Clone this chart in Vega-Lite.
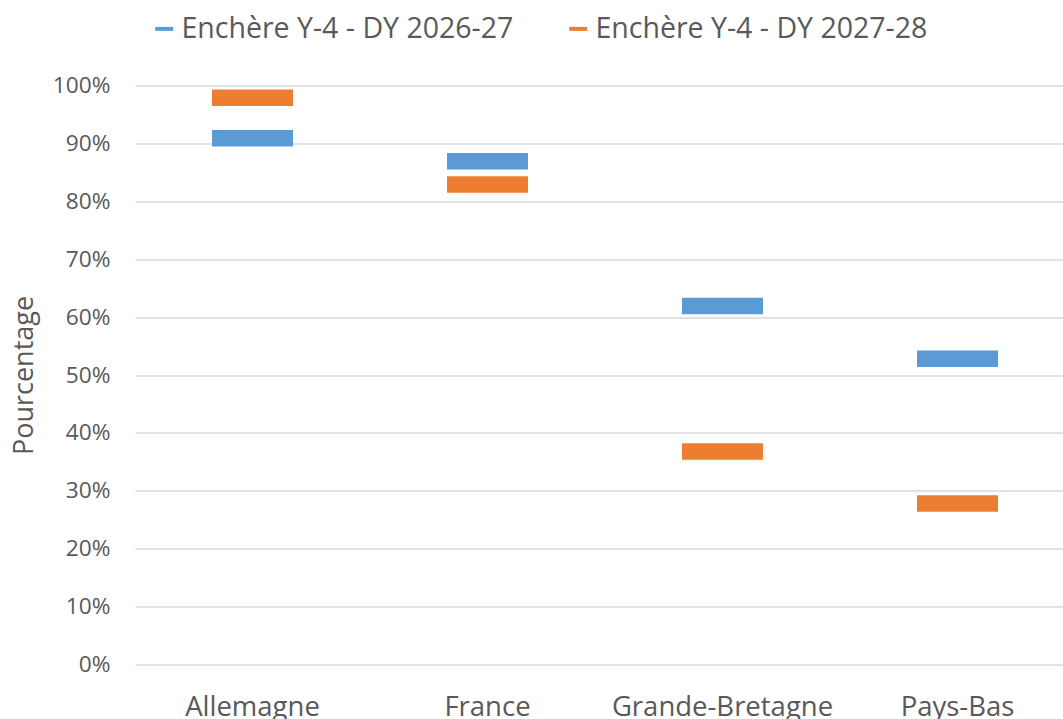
{
  "$schema": "https://vega.github.io/schema/vega-lite/v6.json",
  "width": 928,
  "height": 579,
  "autosize": {"type": "none"},
  "padding": {"left": 135, "top": 85.5, "right": 0, "bottom": 54.5},
  "background": "white",
  "config": {"view": {"stroke": null}, "font": "Open Sans"},
  "data": {
    "values": [
      {"pays": "Allemagne", "serie": "Enchère Y-4 - DY 2026-27", "valeur": 0.909},
      {"pays": "Allemagne", "serie": "Enchère Y-4 - DY 2027-28", "valeur": 0.979},
      {"pays": "France", "serie": "Enchère Y-4 - DY 2026-27", "valeur": 0.869},
      {"pays": "France", "serie": "Enchère Y-4 - DY 2027-28", "valeur": 0.829},
      {"pays": "Grande-Bretagne", "serie": "Enchère Y-4 - DY 2026-27", "valeur": 0.619},
      {"pays": "Grande-Bretagne", "serie": "Enchère Y-4 - DY 2027-28", "valeur": 0.368},
      {"pays": "Pays-Bas", "serie": "Enchère Y-4 - DY 2026-27", "valeur": 0.528},
      {"pays": "Pays-Bas", "serie": "Enchère Y-4 - DY 2027-28", "valeur": 0.278}
    ]
  },
  "mark": {"type": "tick", "size": 81, "thickness": 16.5, "opacity": 1},
  "encoding": {
    "x": {
      "field": "pays",
      "type": "nominal",
      "sort": ["Allemagne", "France", "Grande-Bretagne", "Pays-Bas"],
      "scale": {"range": [0, 940], "paddingInner": 0, "paddingOuter": 0},
      "axis": {
        "title": null,
        "labelAngle": 0,
        "labelFontSize": 27.5,
        "labelColor": "#595959",
        "labelPadding": 29,
        "labelLimit": 400,
        "domain": false,
        "ticks": false,
        "grid": false
      }
    },
    "y": {
      "field": "valeur",
      "type": "quantitative",
      "scale": {"domain": [0, 1], "nice": false},
      "axis": {
        "title": "Pourcentage",
        "titleFontSize": 27,
        "titleFontWeight": "normal",
        "titleColor": "#595959",
        "titlePadding": 14,
        "values": [0, 0.1, 0.2, 0.3, 0.4, 0.5, 0.6, 0.7, 0.8, 0.9, 1],
        "format": ".0%",
        "labelFontSize": 22.7,
        "labelColor": "#595959",
        "labelPadding": 25,
        "domain": false,
        "ticks": false,
        "grid": true,
        "gridColor": "#D9D9D9",
        "gridWidth": 1.5
      }
    },
    "color": {
      "field": "serie",
      "type": "nominal",
      "scale": {
        "domain": ["Enchère Y-4 - DY 2026-27", "Enchère Y-4 - DY 2027-28"],
        "range": ["#5B9BD5", "#ED7D31"]
      },
      "legend": {
        "title": null,
        "orient": "none",
        "direction": "horizontal",
        "legendX": 15,
        "legendY": -71,
        "symbolType": "M-1,-0.22H1V0.22H-1Z",
        "symbolSize": 324,
        "symbolStrokeWidth": 0,
        "labelFontSize": 28.5,
        "labelColor": "#595959",
        "labelOffset": 3,
        "columnPadding": 50,
        "labelLimit": 500
      }
    }
  }
}
